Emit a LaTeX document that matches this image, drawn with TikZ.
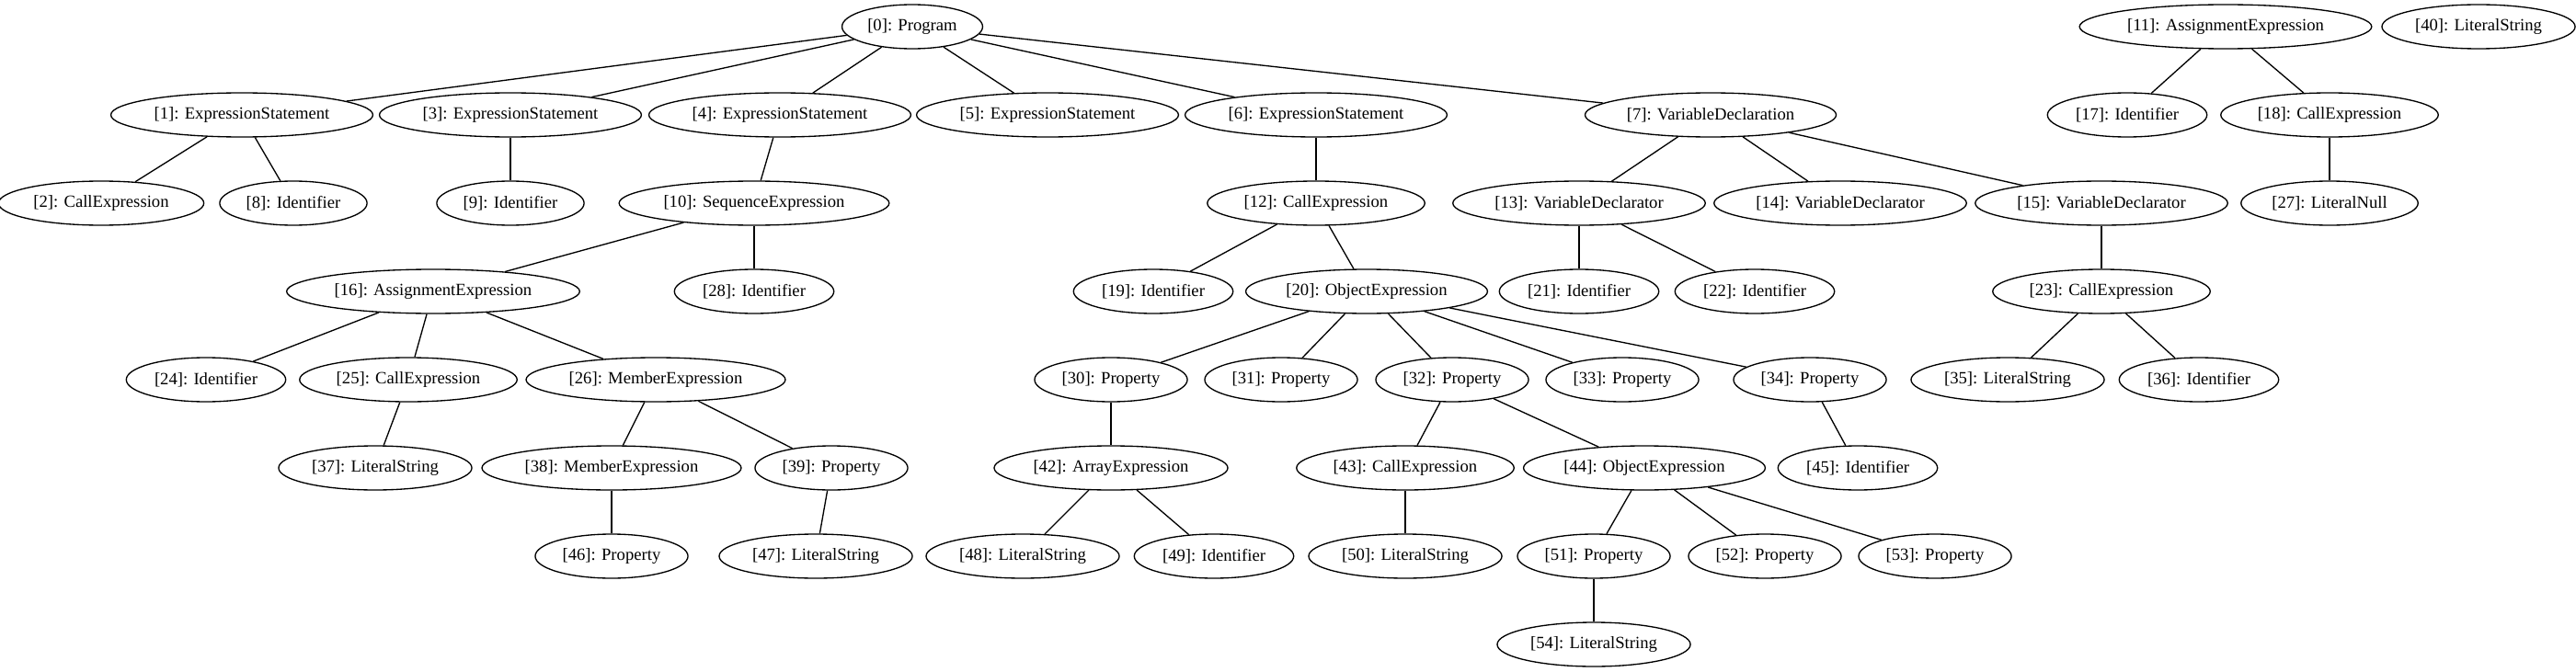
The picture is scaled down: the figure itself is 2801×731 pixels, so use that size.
\documentclass[tikz,border=0pt]{standalone}
\usepackage{fontspec}
\setmainfont{Liberation Serif}
\usetikzlibrary{shapes.geometric}

\begin{document}
\begin{tikzpicture}[
  x=0.75pt,y=-0.75pt,
  astnode/.style={ellipse,draw=black,line width=1pt,minimum height=36pt,
                  inner xsep=4pt,inner ysep=2pt,
                  font=\fontsize{14}{16}\selectfont},
  link/.style={line width=1pt,draw=black}
]
\useasboundingbox (0,0) rectangle (2801,731);
\node[astnode] (n0) at (992,29) {[0]: Program};
\node[astnode] (n11) at (2420,29) {[11]: AssignmentExpression};
\node[astnode] (n40) at (2695,29) {[40]: LiteralString};
\node[astnode] (n1) at (263,125) {[1]: ExpressionStatement};
\node[astnode] (n3) at (555,125) {[3]: ExpressionStatement};
\node[astnode] (n4) at (848,125) {[4]: ExpressionStatement};
\node[astnode] (n5) at (1139,125) {[5]: ExpressionStatement};
\node[astnode] (n6) at (1431,125) {[6]: ExpressionStatement};
\node[astnode] (n7) at (1860,125) {[7]: VariableDeclaration};
\node[astnode] (n17) at (2313,125) {[17]: Identifier};
\node[astnode] (n18) at (2533,125) {[18]: CallExpression};
\node[astnode] (n2) at (110,221) {[2]: CallExpression};
\node[astnode] (n8) at (319,221) {[8]: Identifier};
\node[astnode] (n9) at (555,221) {[9]: Identifier};
\node[astnode] (n10) at (820,221) {[10]: SequenceExpression};
\node[astnode] (n12) at (1431,221) {[12]: CallExpression};
\node[astnode] (n13) at (1717,221) {[13]: VariableDeclarator};
\node[astnode] (n14) at (2001,221) {[14]: VariableDeclarator};
\node[astnode] (n15) at (2285,221) {[15]: VariableDeclarator};
\node[astnode] (n27) at (2533,221) {[27]: LiteralNull};
\node[astnode] (n16) at (471,317) {[16]: AssignmentExpression};
\node[astnode] (n28) at (820,317) {[28]: Identifier};
\node[astnode] (n19) at (1254,317) {[19]: Identifier};
\node[astnode] (n20) at (1486,317) {[20]: ObjectExpression};
\node[astnode] (n21) at (1717,317) {[21]: Identifier};
\node[astnode] (n22) at (1908,317) {[22]: Identifier};
\node[astnode] (n23) at (2285,317) {[23]: CallExpression};
\node[astnode] (n24) at (224,413) {[24]: Identifier};
\node[astnode] (n25) at (444,413) {[25]: CallExpression};
\node[astnode] (n26) at (713,413) {[26]: MemberExpression};
\node[astnode] (n30) at (1208,413) {[30]: Property};
\node[astnode] (n31) at (1393,413) {[31]: Property};
\node[astnode] (n32) at (1579,413) {[32]: Property};
\node[astnode] (n33) at (1764,413) {[33]: Property};
\node[astnode] (n34) at (1968,413) {[34]: Property};
\node[astnode] (n35) at (2183,413) {[35]: LiteralString};
\node[astnode] (n36) at (2391,413) {[36]: Identifier};
\node[astnode] (n37) at (408,509) {[37]: LiteralString};
\node[astnode] (n38) at (665,509) {[38]: MemberExpression};
\node[astnode] (n39) at (904,509) {[39]: Property};
\node[astnode] (n42) at (1208,509) {[42]: ArrayExpression};
\node[astnode] (n43) at (1528,509) {[43]: CallExpression};
\node[astnode] (n44) at (1788,509) {[44]: ObjectExpression};
\node[astnode] (n45) at (2020,509) {[45]: Identifier};
\node[astnode] (n46) at (665,605) {[46]: Property};
\node[astnode] (n47) at (887,605) {[47]: LiteralString};
\node[astnode] (n48) at (1112,605) {[48]: LiteralString};
\node[astnode] (n49) at (1320,605) {[49]: Identifier};
\node[astnode] (n50) at (1528,605) {[50]: LiteralString};
\node[astnode] (n51) at (1733,605) {[51]: Property};
\node[astnode] (n52) at (1919,605) {[52]: Property};
\node[astnode] (n53) at (2104,605) {[53]: Property};
\node[astnode] (n54) at (1733,701) {[54]: LiteralString};
\draw[link] (n0)--(n1);
\draw[link] (n0)--(n3);
\draw[link] (n0)--(n4);
\draw[link] (n0)--(n5);
\draw[link] (n0)--(n6);
\draw[link] (n0)--(n7);
\draw[link] (n1)--(n2);
\draw[link] (n1)--(n8);
\draw[link] (n3)--(n9);
\draw[link] (n4)--(n10);
\draw[link] (n6)--(n12);
\draw[link] (n7)--(n13);
\draw[link] (n7)--(n14);
\draw[link] (n7)--(n15);
\draw[link] (n11)--(n17);
\draw[link] (n11)--(n18);
\draw[link] (n18)--(n27);
\draw[link] (n10)--(n16);
\draw[link] (n10)--(n28);
\draw[link] (n12)--(n19);
\draw[link] (n12)--(n20);
\draw[link] (n13)--(n21);
\draw[link] (n13)--(n22);
\draw[link] (n15)--(n23);
\draw[link] (n16)--(n24);
\draw[link] (n16)--(n25);
\draw[link] (n16)--(n26);
\draw[link] (n20)--(n30);
\draw[link] (n20)--(n31);
\draw[link] (n20)--(n32);
\draw[link] (n20)--(n33);
\draw[link] (n20)--(n34);
\draw[link] (n23)--(n35);
\draw[link] (n23)--(n36);
\draw[link] (n25)--(n37);
\draw[link] (n26)--(n38);
\draw[link] (n26)--(n39);
\draw[link] (n30)--(n42);
\draw[link] (n32)--(n43);
\draw[link] (n32)--(n44);
\draw[link] (n34)--(n45);
\draw[link] (n38)--(n46);
\draw[link] (n39)--(n47);
\draw[link] (n42)--(n48);
\draw[link] (n42)--(n49);
\draw[link] (n43)--(n50);
\draw[link] (n44)--(n51);
\draw[link] (n44)--(n52);
\draw[link] (n44)--(n53);
\draw[link] (n51)--(n54);
\end{tikzpicture}
\end{document}
